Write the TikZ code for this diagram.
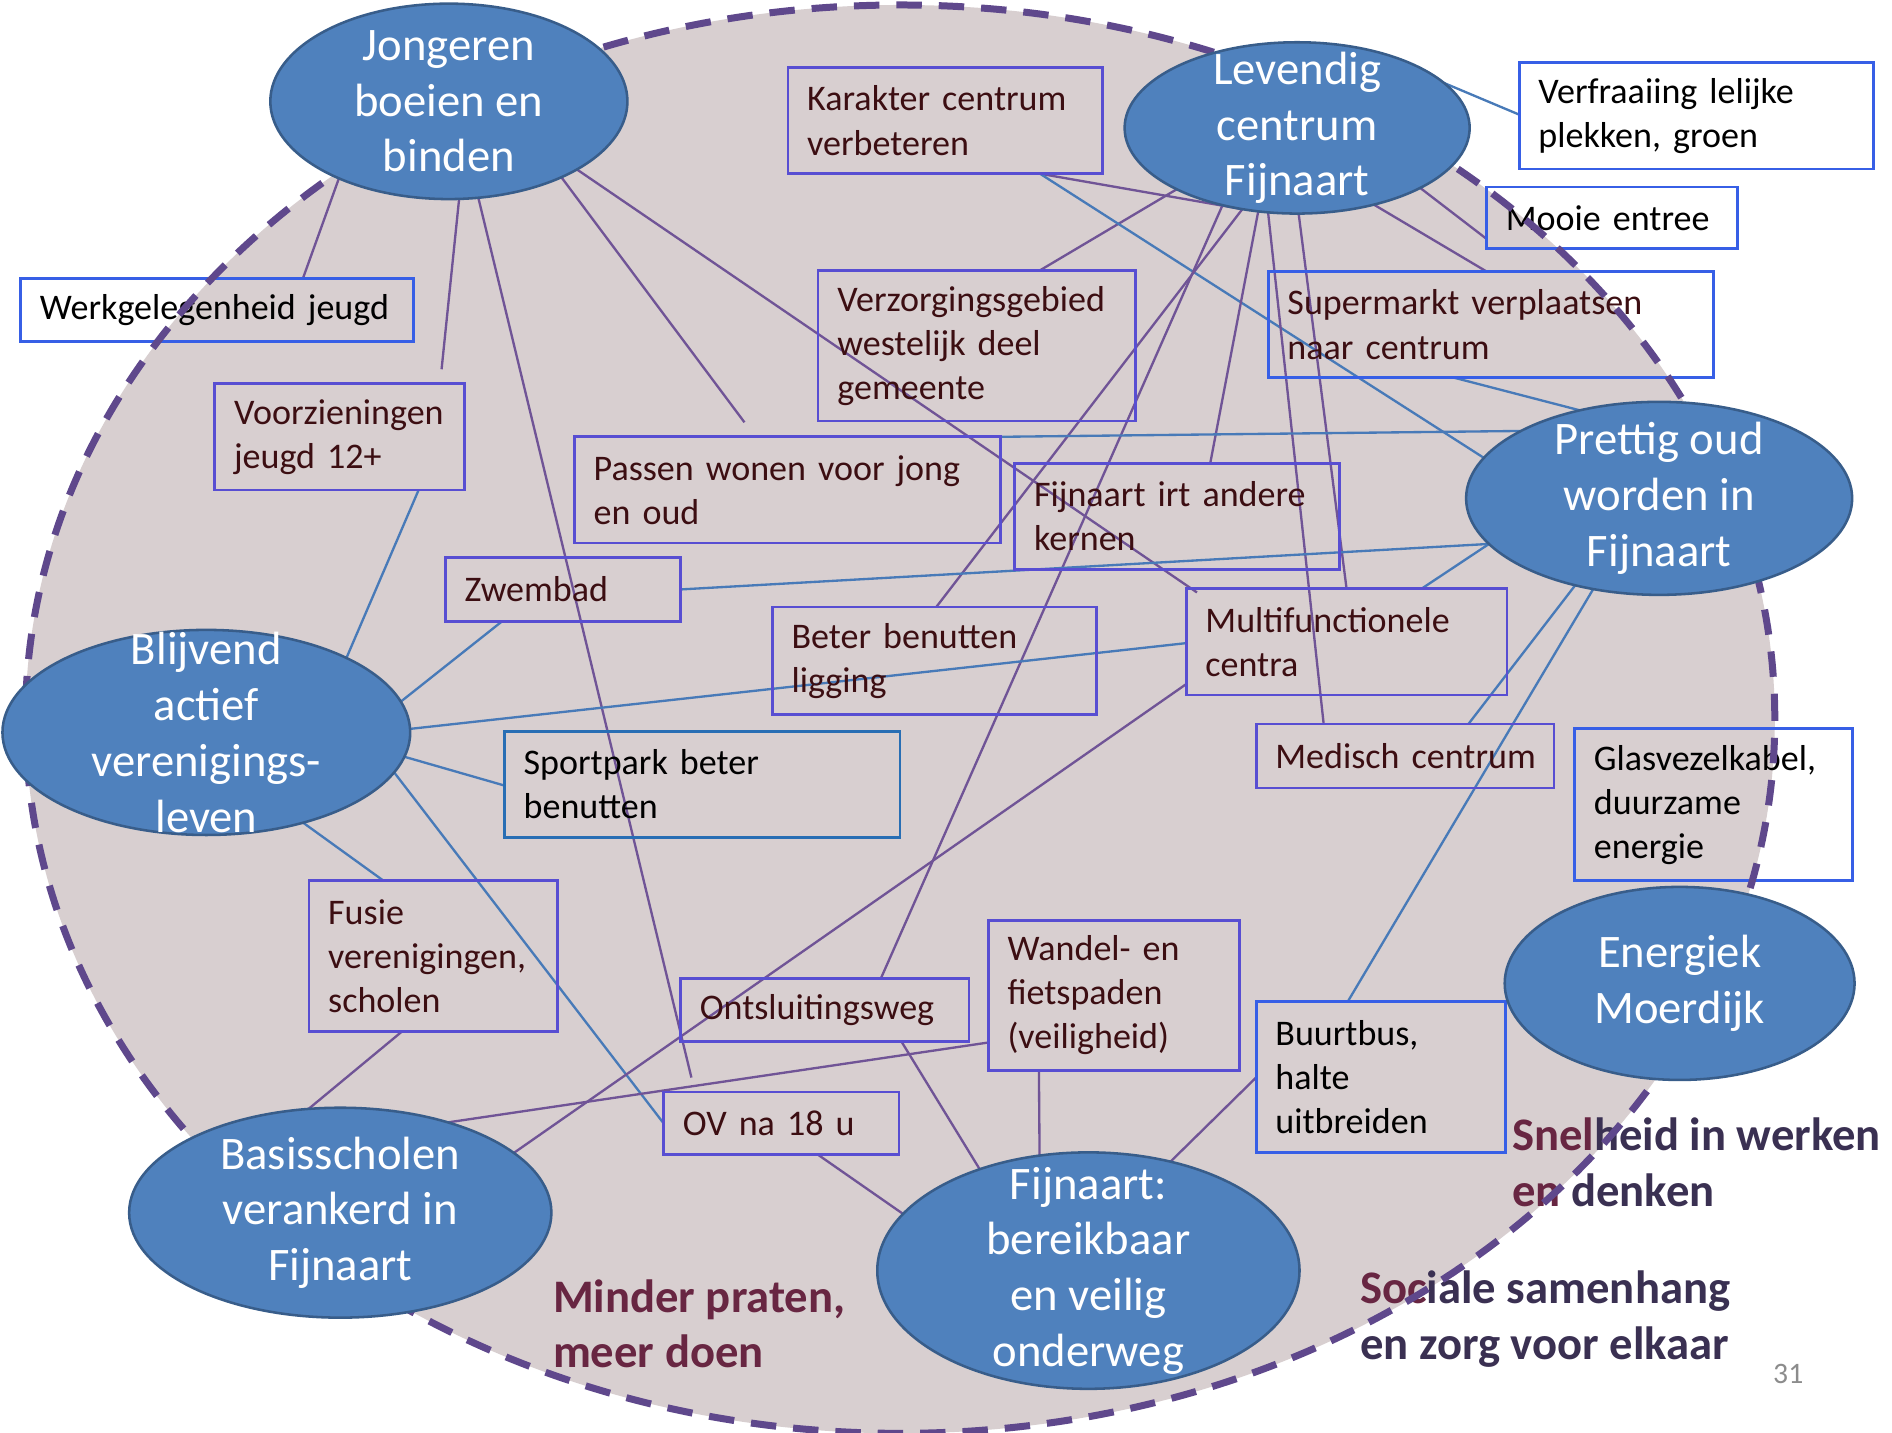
\documentclass[tikz,border=0pt]{standalone}
\usepackage{fontspec}
\setmainfont{Carlito}
\usetikzlibrary{shapes.geometric}
\definecolor{bgc}{RGB}{216,207,208}
\definecolor{ellfill}{RGB}{79,129,189}
\definecolor{elldraw}{RGB}{56,93,138}
\definecolor{boxv}{RGB}{88,78,210}
\definecolor{boxb}{RGB}{55,95,230}
\definecolor{boxt}{RGB}{40,110,180}
\definecolor{txtm}{RGB}{60,14,18}
\definecolor{lnp}{RGB}{112,84,150}
\definecolor{lnb}{RGB}{72,122,184}
\definecolor{dashc}{RGB}{95,72,140}
\definecolor{boldm}{RGB}{104,38,66}
\definecolor{boldd}{RGB}{58,48,82}
\definecolor{pgnum}{RGB}{140,140,140}
\newcommand\myboxfont{\fontsize{17pt}{20.8pt}\selectfont\hyphenpenalty=10000\exhyphenpenalty=10000}
\newcommand\myellfont{\fontsize{22pt}{26.3pt}\selectfont}
\newcommand\mybold{\fontsize{22pt}{26.3pt}\selectfont\bfseries}
\pgfdeclarelayer{bg}
\pgfdeclarelayer{lines}
\pgfdeclarelayer{dashl}
\pgfdeclarelayer{top}
\pgfsetlayers{bg,lines,main,dashl,top}
\begin{document}
\begin{tikzpicture}[x=0.02cm, y=-0.02cm,
  bx/.style={draw=boxv, text=txtm, line width=1.3pt, anchor=north west, inner xsep=0.32cm, inner ysep=0pt, outer sep=0pt, align=left, font=\myboxfont},
  bxb/.style={bx, draw=boxb, text=black},
  ell/.style={ellipse, fill=ellfill, draw=elldraw, line width=1.2pt, inner sep=0pt, outer sep=0pt},
  ellt/.style={text=white, font=\myellfont, align=center, inner sep=0pt},
  boldt/.style={font=\mybold, align=left, inner sep=0pt, anchor=west},
  cp/.style={draw=lnp, line width=1.1pt},
  cb/.style={draw=lnb, line width=1.1pt}]

\useasboundingbox (0,0) rectangle (1568,1187);

% ellipse nodes (top layer)
\begin{pgfonlayer}{top}
\node[ell, minimum width=5.92cm, minimum height=3.24cm, label={[ellt]center:{Jongeren\\boeien en\\binden}}] (jong) at (372,84) {};
\node[ell, minimum width=5.72cm, minimum height=2.84cm, label={[ellt]center:{Levendig\\centrum\\Fijnaart}}] (lev) at (1075,106) {};
\node[ell, minimum width=6.40cm, minimum height=3.20cm, label={[ellt]center:{Prettig oud\\worden in\\Fijnaart}}] (pret) at (1375,413) {};
\node[ell, minimum width=6.76cm, minimum height=3.40cm, label={[ellt]center:{Blijvend\\actief\\verenigings-\\leven}}] (blij) at (171,607) {};
\node[ell, minimum width=5.80cm, minimum height=3.20cm, label={[ellt]center:{Energiek\\Moerdijk}}] (ener) at (1392,815) {};
\node[ell, minimum width=7.00cm, minimum height=3.48cm, label={[ellt]center:{Basisscholen\\verankerd in\\Fijnaart}}] (basis) at (282,1005) {};
\node[ell, minimum width=7.00cm, minimum height=3.92cm, label={[ellt]center:{Fijnaart:\\bereikbaar\\en veilig\\onderweg}}] (fijn) at (902,1053) {};
\end{pgfonlayer}

% boxes
\node[bxb, minimum width=6.52cm, minimum height=1.04cm, text width=5.88cm] (werk) at (17,231) {\mbox{Werkgelegenheid jeugd}};
\node[bx, minimum width=4.14cm, minimum height=1.76cm, text width=3.50cm] (voorz) at (178,318) {Voorzieningen\\jeugd 12+};
\node[bx, minimum width=5.22cm, minimum height=1.76cm, text width=4.58cm] (kar) at (653,56) {Karakter centrum\\verbeteren};
\node[bx, minimum width=5.26cm, minimum height=2.50cm, text width=4.62cm] (verz) at (678,224) {Verzorgingsgebied\\westelijk deel\\gemeente};
\node[bx, minimum width=7.06cm, minimum height=1.76cm, text width=6.42cm] (passen) at (476,362) {\mbox{Passen wonen voor jong}\\en oud};
\node[bx, minimum width=3.90cm, minimum height=1.06cm, text width=3.26cm] (zwem) at (369,462) {\mbox{Zwembad}};
\node[bx, minimum width=5.38cm, minimum height=1.76cm, text width=4.74cm] (irt) at (841,384) {\mbox{Fijnaart irt andere}\\kernen};
\node[bx, minimum width=5.38cm, minimum height=1.78cm, text width=4.74cm] (beter) at (640,503) {Beter benutten\\ligging};
\node[bx, minimum width=5.32cm, minimum height=1.76cm, text width=4.68cm] (multi) at (983,488) {Multifunctionele\\centra};
\node[bx, draw=boxt, text=black, minimum width=6.56cm, minimum height=1.76cm, text width=5.92cm] (sport) at (418,606) {Sportpark beter\\benutten};
\node[bx, minimum width=4.94cm, minimum height=1.06cm, text width=4.30cm] (med) at (1041,600) {\mbox{Medisch centrum}};
\node[bxb, minimum width=4.60cm, minimum height=2.52cm, text width=3.96cm] (glas) at (1305,604) {Glasvezelkabel,\\duurzame\\energie};
\node[bxb, minimum width=5.88cm, minimum height=1.76cm, text width=5.24cm] (verfr) at (1259,52) {\mbox{Verfraaiing lelijke}\\\mbox{plekken, groen}};
\node[bxb, minimum width=4.16cm, minimum height=1.02cm, text width=3.52cm] (mooie) at (1232,155) {\mbox{Mooie entree}};
\node[bxb, text=txtm, minimum width=7.38cm, minimum height=1.76cm, text width=6.74cm] (super) at (1051,225) {\mbox{Supermarkt verplaatsen}\\naar centrum};
\node[bx, minimum width=4.12cm, minimum height=2.50cm, text width=3.48cm] (fusie) at (256,730) {Fusie\\verenigingen,\\scholen};
\node[bx, minimum width=4.78cm, minimum height=1.04cm, text width=4.14cm] (ontsl) at (564,811) {\mbox{Ontsluitingsweg}};
\node[bx, minimum width=4.16cm, minimum height=2.48cm, text width=3.52cm] (wandel) at (819,763) {\mbox{Wandel- en}\\fietspaden\\(veiligheid)};
\node[bx, minimum width=3.90cm, minimum height=1.04cm, text width=3.26cm] (ov) at (550,905) {\mbox{OV na 18 u}};
\node[bxb, minimum width=4.14cm, minimum height=2.50cm, text width=3.50cm] (buurt) at (1041,830) {Buurtbus,\\halte\\uitbreiden};

% bold texts
\node[boldt, text=boldm] (minder) at (458,1097) {Minder praten,\\meer doen};
\node[boldt, text=boldd] (snel) at (1253,963) {\textcolor{boldm}{Snel}heid in werken\\\textcolor{boldm}{en} denken};
\node[boldt, text=boldd] (soc) at (1127,1093) {\textcolor{boldm}{Soc}iale samenhang\\en zorg voor elkaar};
\node[text=pgnum, font=\fontsize{14pt}{17pt}\selectfont, inner sep=0pt] (pnum) at (1482,1139) {31};

% background
\begin{pgfonlayer}{bg}
\fill[white] (0,0) rectangle (1568,1187);
\fill[bgc] (746,596) ellipse [x radius=14.5cm, y radius=11.84cm];
\end{pgfonlayer}

% connectors
\begin{pgfonlayer}{lines}
\draw[cp] (jong.215) -- ([xshift=4.68cm]werk.north west);
\draw[cp] (jong.276) -- ([xshift=3.76cm,yshift=0.24cm]voorz.north west);
\draw[cp] (jong.-73) -- ([xshift=0.46cm,yshift=0.24cm]ov.north west);
\draw[cp] (jong.-34) -- ([xshift=2.82cm,yshift=0.24cm]passen.north west);
\draw[cp] (jong.-28) -- ([xshift=0.18cm,yshift=-0.06cm]multi.north west);
\draw[cp] (lev.207) -- ([xshift=3.68cm]verz.north west);
\draw[cp] ([xshift=4.18cm]kar.south west) -- (lev.236);
\draw[cb] ([xshift=4.18cm]kar.south west) -- (pret.167);
\draw[cp] (lev.236) -- ([xshift=2.72cm]beter.north west);
\draw[cp] (lev.226) -- ([xshift=3.32cm]ontsl.north west);
\draw[cp] (lev.245) -- ([xshift=3.24cm]irt.north west);
\draw[cp] (lev.251) -- ([xshift=1.12cm]med.north west);
\draw[cp] (lev.271) -- ([xshift=2.66cm]multi.north west);
\draw[cp] (lev.-45) -- ([xshift=3.62cm]super.north west);
\draw[cp] (lev.-26) -- ([yshift=0.16cm]mooie.south west);
\draw[cb] (lev.17) -- ([yshift=-0.86cm]verfr.north west);
\draw[cb] ([xshift=3.08cm]super.south west) -- (pret.132);
\draw[cb] (pret.154) -- (passen.north east);
\draw[cb] (pret.195) -- (zwem.east);
\draw[cb] (pret.195) -- ([xshift=3.9cm]multi.north west);
\draw[cb] (pret.226) -- ([xshift=3.52cm]med.north west);
\draw[cb] (pret.234) -- ([xshift=1.52cm]buurt.north west);
\draw[cb] (blij.28) -- ([xshift=3.38cm]voorz.south west);
\draw[cb] (blij.9) -- ([xshift=0.94cm]zwem.south west);
\draw[cb] (blij.1) -- ([yshift=-0.9cm]multi.north west);
\draw[cb] (blij.-7) -- ([yshift=-0.9cm]sport.north west);
\draw[cb] (blij.-12) -- (ov.west);
\draw[cb] (blij.-43) -- ([xshift=1.24cm]fusie.north west);
\draw[cp] (basis.107) -- ([xshift=1.54cm]fusie.south west);
\draw[cp] (basis.40) -- ([yshift=0.46cm]wandel.south west);
\draw[cp] (basis.19) -- ([yshift=0.18cm]multi.south west);
\draw[cp] (fijn.137) -- ([xshift=3.66cm]ontsl.south west);
\draw[cp] (fijn.163) -- ([xshift=2.56cm]ov.south west);
\draw[cp] (fijn.113) -- ([xshift=0.84cm]wandel.south west);
\draw[cp] (fijn.53) -- ([yshift=-1.26cm]buurt.north west);
\end{pgfonlayer}

% dashed outline
\begin{pgfonlayer}{dashl}
\draw[dashc, line width=3.3pt, dash pattern=on 12pt off 8pt] (746,596) ellipse [x radius=14.5cm, y radius=11.84cm];
\end{pgfonlayer}
\end{tikzpicture}
\end{document}
